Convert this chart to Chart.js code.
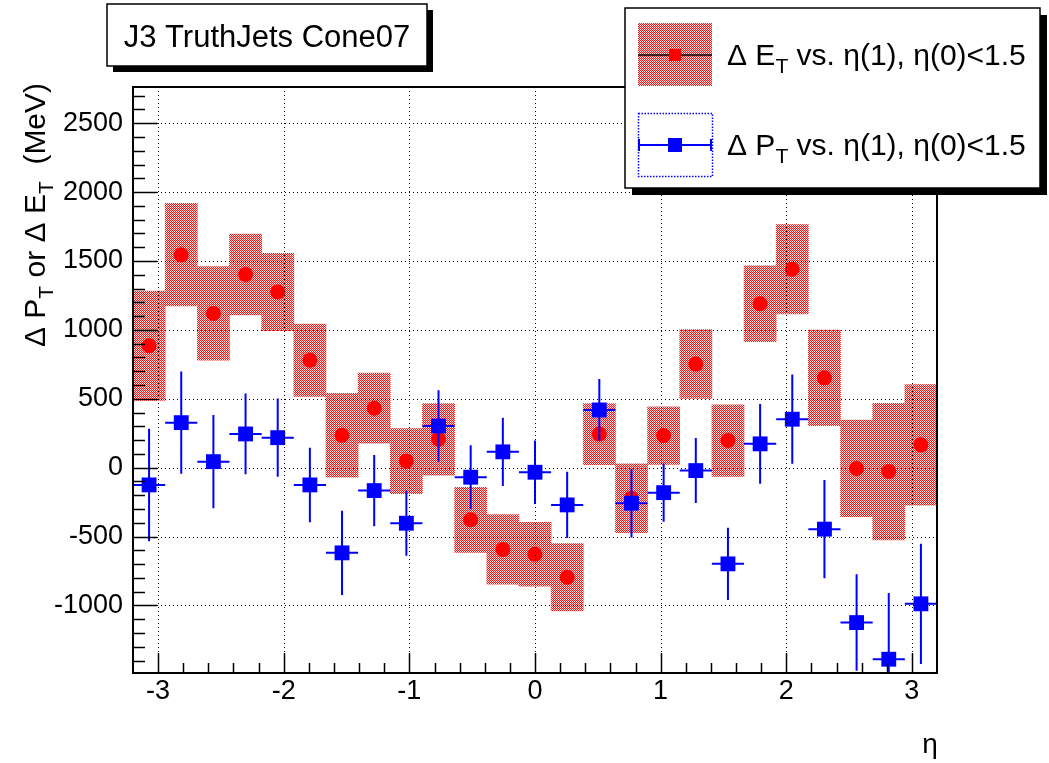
<!DOCTYPE html>
<html lang="en">
<head>
<meta charset="UTF-8">
<title>J3 TruthJets Cone07</title>
<style>
  html, body { margin: 0; padding: 0; background: #fff; }
  .chart-container { width: 1049px; height: 763px; }
</style>
</head>
<body>
<div class="chart-container">
  <canvas id="eta-chart" width="1049" height="763"></canvas>
</div>
<script src="https://cdn.jsdelivr.net/npm/chart.js"></script>
<script>
// 25 eta bins between -3.2 and 3.2
var etaCenters = [-3.072, -2.816, -2.56, -2.304, -2.048, -1.792, -1.536, -1.28, -1.024, -0.768, -0.512, -0.256, 0,
                  0.256, 0.512, 0.768, 1.024, 1.28, 1.536, 1.792, 2.048, 2.304, 2.56, 2.816, 3.072];
var etaHalfWidth = 0.128;

// Delta E_T (red band + marker)
var dEt    = [885, 1546, 1120, 1402, 1275, 780, 236, 432, 48, 206, -378, -593, -628, -795, 244, -222, 233, 752, 197, 1190, 1440, 652, -5, -28, 166];
var dEtErr = [396, 372, 340, 293, 280, 262, 304, 254, 236, 260, 236, 252, 232, 245, 222, 250, 209, 250, 260, 276, 324, 347, 351, 496, 438];

// Delta P_T (blue squares with error bars)
var dPt    = [-125, 327, 44, 245, 218, -125, -618, -166, -403, 303, -69, 115, -33, -270, 419, -258, -181, -21, -698, 173, 352, -446, -1124, -1390, -988];
var dPtErr = [408, 371, 338, 293, 284, 270, 305, 259, 236, 260, 232, 247, 230, 240, 224, 249, 211, 236, 263, 290, 324, 356, 350, 480, 436];

var xTicks = [-3, -2, -1, 0, 1, 2, 3];
var yTicks = [-1000, -500, 0, 500, 1000, 1500, 2000, 2500];

var FONT = '"Liberation Sans", Arial, Helvetica, sans-serif';
Chart.defaults.font.family = FONT;

var canvas = document.getElementById('eta-chart');
var ctx = canvas.getContext('2d');

// red dotted fill like ROOT fill style
var pc = document.createElement('canvas');
pc.width = 2; pc.height = 2;
var pctx = pc.getContext('2d');
pctx.fillStyle = '#ffdcdc';
pctx.fillRect(0, 0, 2, 2);
pctx.fillStyle = '#ff1414';
pctx.fillRect(0, 0, 1, 1);
pctx.fillRect(1, 1, 1, 1);
var hatch = ctx.createPattern(pc, 'repeat');

var bandData = etaCenters.map(function (x, i) {
  return { x: x, y: [dEt[i] - dEtErr[i], dEt[i] + dEtErr[i]] };
});
var etPoints = etaCenters.map(function (x, i) { return { x: x, y: dEt[i] }; });
var ptPoints = etaCenters.map(function (x, i) { return { x: x, y: dPt[i] }; });

// error bar segments, null breaks the line
var ptBars = [];
etaCenters.forEach(function (x, i) {
  ptBars.push({ x: x, y: dPt[i] - dPtErr[i] }, { x: x, y: dPt[i] + dPtErr[i] }, { x: x, y: null });
  ptBars.push({ x: x - etaHalfWidth, y: dPt[i] }, { x: x + etaHalfWidth, y: dPt[i] }, { x: x, y: null });
});

function richText(c, runs, x, y, size, align) {
  var total = 0;
  runs.forEach(function (r) {
    c.font = (r.sub ? Math.round(size * 0.7) : size) + 'px ' + FONT;
    r.w = c.measureText(r.t).width;
    total += r.w;
  });
  var cx = align === 'center' ? x - total / 2 : x;
  c.textAlign = 'left';
  c.textBaseline = 'alphabetic';
  runs.forEach(function (r) {
    c.font = (r.sub ? Math.round(size * 0.7) : size) + 'px ' + FONT;
    c.fillText(r.t, cx, r.sub ? y + size * 0.28 : y);
    cx += r.w;
  });
}

function shadowBox(c, x, y, w, h, off) {
  c.fillStyle = '#000';
  c.fillRect(x + off, y + off, w, h);
  c.fillStyle = '#fff';
  c.fillRect(x, y, w, h);
  c.lineWidth = 1.5;
  c.strokeStyle = '#000';
  c.strokeRect(x, y, w, h);
}

var rootDecor = {
  id: 'rootDecor',
  afterDatasetsDraw: function (chart) {
    var c = chart.ctx, a = chart.chartArea, xs = chart.scales.x, ys = chart.scales.y;
    c.save();
    c.strokeStyle = '#000';
    c.lineWidth = 1;
    c.setLineDash([1, 3]);
    c.beginPath();
    xTicks.forEach(function (v) {
      var px = Math.round(xs.getPixelForValue(v)) + 0.5;
      c.moveTo(px, a.top); c.lineTo(px, a.bottom);
    });
    yTicks.forEach(function (v) {
      var py = Math.round(ys.getPixelForValue(v)) + 0.5;
      c.moveTo(a.left, py); c.lineTo(a.right, py);
    });
    c.stroke();
    c.restore();
  },
  afterDraw: function (chart) {
    var c = chart.ctx, a = chart.chartArea, xs = chart.scales.x, ys = chart.scales.y;
    c.save();
    // inward tick marks
    c.strokeStyle = '#000';
    c.lineWidth = 1.5;
    c.beginPath();
    for (var v = -1400; v <= 2700; v += 100) {
      var py = Math.round(ys.getPixelForValue(v)) + 0.5;
      var len = (v % 500 === 0) ? 24 : 12;
      c.moveTo(a.left, py); c.lineTo(a.left + len, py);
    }
    for (var i = -15; i <= 15; i++) {
      var px = Math.round(xs.getPixelForValue(i * 0.2)) + 0.5;
      var tl = (i % 5 === 0) ? 20 : 10;
      c.moveTo(px, a.bottom); c.lineTo(px, a.bottom - tl);
    }
    c.stroke();
    // frame
    c.lineWidth = 2;
    c.strokeRect(a.left, a.top, a.right - a.left, a.bottom - a.top);

    c.fillStyle = '#000';
    // axis titles
    c.save();
    c.translate(45, 215);
    c.rotate(-Math.PI / 2);
    richText(c, [{ t: '\u0394 P' }, { t: 'T', sub: true }, { t: ' or \u0394 E' }, { t: 'T', sub: true }, { t: '  (MeV)' }], 0, 0, 30, 'center');
    c.restore();
    c.font = '28px ' + FONT;
    c.textAlign = 'center';
    c.textBaseline = 'alphabetic';
    c.fillText('\u03b7', 930, 753);

    // title box
    shadowBox(c, 107, 4, 320, 62, 6);
    c.fillStyle = '#000';
    richText(c, [{ t: 'J3 TruthJets Cone07' }], 267, 47, 31, 'center');

    // legend
    shadowBox(c, 625, 8, 415, 180, 7);
    c.fillStyle = hatch;
    c.fillRect(638, 23, 74, 63);
    c.strokeStyle = '#000';
    c.lineWidth = 1.5;
    c.beginPath(); c.moveTo(638, 55); c.lineTo(712, 55); c.stroke();
    c.fillStyle = '#ff0000';
    c.fillRect(669, 49, 12, 12);

    c.strokeStyle = '#0000ff';
    c.lineWidth = 1.5;
    c.setLineDash([1.5, 1.5]);
    c.strokeRect(638.5, 113.5, 74, 63);
    c.setLineDash([]);
    c.lineWidth = 2;
    c.beginPath();
    c.moveTo(639, 145); c.lineTo(711, 145);
    c.moveTo(639, 139); c.lineTo(639, 151);
    c.moveTo(711, 139); c.lineTo(711, 151);
    c.stroke();
    c.fillStyle = '#0000ff';
    c.fillRect(668, 138, 14, 14);

    c.fillStyle = '#000';
    richText(c, [{ t: '\u0394 E' }, { t: 'T', sub: true }, { t: ' vs. \u03b7(1), \u03b7(0)<1.5' }], 727, 65, 30, 'left');
    richText(c, [{ t: '\u0394 P' }, { t: 'T', sub: true }, { t: ' vs. \u03b7(1), \u03b7(0)<1.5' }], 727, 155, 30, 'left');
    c.restore();
  }
};

var chart = new Chart(ctx, {
  type: 'scatter',
  data: {
    datasets: [
      { type: 'bar', label: 'dEt band', data: bandData, backgroundColor: hatch, borderWidth: 0,
        barPercentage: 1, categoryPercentage: 1, order: 4 },
      { type: 'scatter', label: 'dEt', data: etPoints, pointStyle: 'circle', pointRadius: 7.5,
        backgroundColor: '#ff0000', borderWidth: 0, order: 3 },
      { type: 'scatter', label: 'dPt err', data: ptBars, showLine: true, spanGaps: false,
        borderColor: '#0000ff', borderWidth: 2, pointRadius: 0, order: 2 },
      { type: 'scatter', label: 'dPt', data: ptPoints, pointStyle: 'rect', pointRadius: 10.5,
        backgroundColor: '#0000ff', borderWidth: 0, order: 1 }
    ]
  },
  options: {
    responsive: false,
    animation: false,
    events: [],
    layout: { padding: { top: 87, right: 112, left: 0, bottom: 0 } },
    plugins: { legend: { display: false }, tooltip: { enabled: false } },
    scales: {
      x: {
        type: 'linear', min: -3.2, max: 3.2, offset: false,
        afterBuildTicks: function (s) { s.ticks = xTicks.map(function (v) { return { value: v }; }); },
        afterFit: function (s) { s.height = 90; },
        grid: { display: false, drawTicks: false, offset: false },
        border: { display: false },
        ticks: { color: '#000', font: { size: 27 }, padding: 2, maxRotation: 0, autoSkip: false,
                 callback: function (v) { return String(v); } }
      },
      y: {
        type: 'linear', min: -1490, max: 2763,
        afterBuildTicks: function (s) { s.ticks = yTicks.map(function (v) { return { value: v }; }); },
        afterFit: function (s) { s.width = 133; },
        grid: { display: false, drawTicks: false },
        border: { display: false },
        ticks: { color: '#000', font: { size: 27 }, padding: 10, autoSkip: false,
                 callback: function (v) { return String(v); } }
      }
    }
  },
  plugins: [rootDecor]
});
</script>
</body>
</html>
